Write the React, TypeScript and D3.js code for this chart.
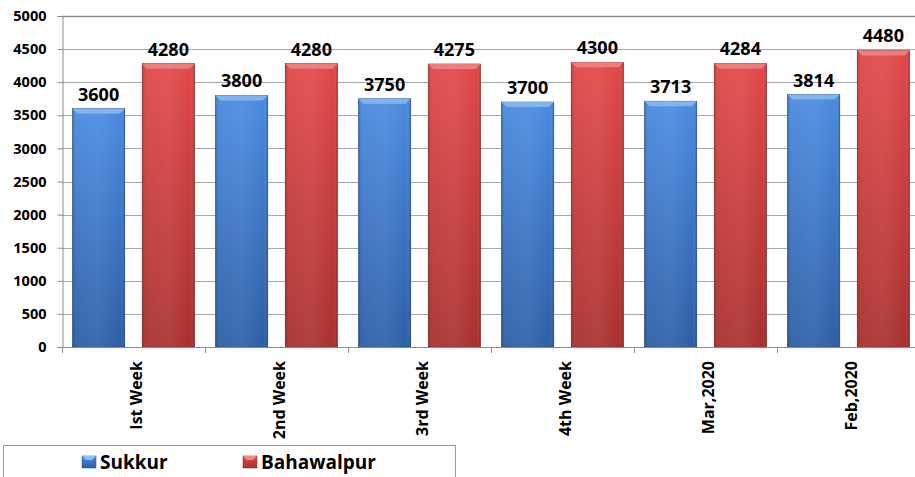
import * as d3 from "d3";
import { useEffect, useRef } from "react";

const categories = ["Ist Week", "2nd Week", "3rd Week", "4th Week", "Mar,2020", "Feb,2020"];
const seriesNames = ["Sukkur", "Bahawalpur"];
const sukkur = [3600, 3800, 3750, 3700, 3713, 3814];
const bahawalpur = [4280, 4280, 4275, 4300, 4284, 4480];
const yTicks = [0, 500, 1000, 1500, 2000, 2500, 3000, 3500, 4000, 4500, 5000];

const FONT = "'Open Sans', 'Liberation Sans', sans-serif";

export default function App() {
  const ref = useRef<SVGSVGElement | null>(null);

  useEffect(() => {
    const svg = d3.select(ref.current);
    svg.selectAll("*").remove();

    const width = 915;
    const height = 477;
    const left = 62;
    const top = 16;
    const bottom = 347;

    svg.attr("width", width).attr("height", height);

    const palette: Record<string, { top: string; bot: string; hi: string; edge: string }> = {
      Sukkur: { top: "#4a8be0", bot: "#2d5ea6", hi: "#8fbdf2", edge: "#24508f" },
      Bahawalpur: { top: "#e24848", bot: "#a8302f", hi: "#f08a8a", edge: "#8e2626" },
    };

    const defs = svg.append("defs");
    seriesNames.forEach((s, i) => {
      const c = palette[s];
      const g = defs
        .append("linearGradient")
        .attr("id", `v${i}`)
        .attr("x1", 0)
        .attr("y1", 0)
        .attr("x2", 0)
        .attr("y2", 1);
      g.append("stop").attr("offset", "0%").attr("stop-color", c.top);
      g.append("stop").attr("offset", "100%").attr("stop-color", c.bot);
    });
    const hg = defs
      .append("linearGradient")
      .attr("id", "hshade")
      .attr("x1", 0)
      .attr("y1", 0)
      .attr("x2", 1)
      .attr("y2", 0);
    hg.append("stop").attr("offset", "0%").attr("stop-color", "#000").attr("stop-opacity", 0.18);
    hg.append("stop").attr("offset", "8%").attr("stop-color", "#fff").attr("stop-opacity", 0.05);
    hg.append("stop").attr("offset", "50%").attr("stop-color", "#fff").attr("stop-opacity", 0.08);
    hg.append("stop").attr("offset", "92%").attr("stop-color", "#fff").attr("stop-opacity", 0.0);
    hg.append("stop").attr("offset", "100%").attr("stop-color", "#000").attr("stop-opacity", 0.22);

    const y = d3.scaleLinear().domain([0, 5000]).range([bottom, top]);
    const x = d3.scaleBand<string>().domain(categories).range([left, left + 143 * 6]);
    const xs = d3
      .scaleBand<string>()
      .domain(seriesNames)
      .range([0, x.bandwidth()])
      .paddingInner(0.25)
      .paddingOuter(0.15);

    // gridlines
    svg
      .append("g")
      .selectAll("line")
      .data(yTicks.filter((t) => t > 0))
      .enter()
      .append("line")
      .attr("x1", left)
      .attr("x2", width)
      .attr("y1", (d) => Math.round(y(d)) + 0.5)
      .attr("y2", (d) => Math.round(y(d)) + 0.5)
      .attr("stroke", (d) => (d === 5000 ? "#8c8c8c" : "#a8a8a8"))
      .attr("stroke-width", (d) => (d === 5000 ? 1.5 : 1));

    // y axis
    const yAxis = svg
      .append("g")
      .attr("transform", `translate(${left + 0.5},0)`)
      .call(
        d3
          .axisLeft(y)
          .tickValues(yTicks)
          .tickFormat(d3.format("d"))
          .tickSize(5)
          .tickPadding(11)
      );
    yAxis.select(".domain").attr("stroke", "#8c8c8c");
    yAxis.selectAll(".tick line").attr("stroke", "#8c8c8c");
    yAxis
      .selectAll("text")
      .attr("font-family", FONT)
      .attr("font-weight", "bold")
      .attr("font-size", "14.5px")
      .attr("fill", "#000");

    const data = categories.map((c, i) => ({
      cat: c,
      vals: [
        { s: seriesNames[0], v: sukkur[i], idx: 0 },
        { s: seriesNames[1], v: bahawalpur[i], idx: 1 },
      ],
    }));

    const groups = svg
      .append("g")
      .selectAll("g")
      .data(data)
      .enter()
      .append("g")
      .attr("transform", (d) => `translate(${x(d.cat)},0)`);

    const bars = groups
      .selectAll("g.bar")
      .data((d) => d.vals)
      .enter()
      .append("g")
      .attr("class", "bar");

    const bw = xs.bandwidth();
    bars
      .append("rect")
      .attr("x", (d) => xs(d.s)!)
      .attr("y", (d) => y(d.v))
      .attr("width", bw)
      .attr("height", (d) => bottom - y(d.v))
      .attr("fill", (d) => `url(#v${d.idx})`)
      .attr("stroke", (d) => palette[d.s].edge)
      .attr("stroke-width", 0.6);
    bars
      .append("rect")
      .attr("x", (d) => xs(d.s)!)
      .attr("y", (d) => y(d.v))
      .attr("width", bw)
      .attr("height", (d) => bottom - y(d.v))
      .attr("fill", "url(#hshade)");
    // top bevel
    bars
      .append("path")
      .attr("d", (d) => {
        const x0 = xs(d.s)!;
        const y0 = y(d.v);
        const b = 5;
        return `M${x0},${y0}L${x0 + bw},${y0}L${x0 + bw - b},${y0 + b}L${x0 + b},${y0 + b}Z`;
      })
      .attr("fill", (d) => palette[d.s].hi)
      .attr("opacity", 0.8);

    // value labels
    bars
      .append("text")
      .attr("x", (d) => xs(d.s)! + bw / 2)
      .attr("y", (d) => y(d.v) - 8)
      .attr("text-anchor", "middle")
      .attr("font-family", FONT)
      .attr("font-weight", "bold")
      .attr("font-size", "18px")
      .attr("fill", "#000")
      .text((d) => d.v);

    // x axis
    svg
      .append("line")
      .attr("x1", left)
      .attr("x2", width)
      .attr("y1", bottom + 0.5)
      .attr("y2", bottom + 0.5)
      .attr("stroke", "#8c8c8c");
    svg
      .append("g")
      .selectAll("line")
      .data(categories)
      .enter()
      .append("line")
      .attr("x1", (d) => x(d)! + 0.5)
      .attr("x2", (d) => x(d)! + 0.5)
      .attr("y1", bottom)
      .attr("y2", bottom + 6)
      .attr("stroke", "#8c8c8c");
    svg
      .append("g")
      .selectAll("text")
      .data(categories)
      .enter()
      .append("text")
      .attr("transform", (d) => `translate(${x(d)! + x.bandwidth() / 2 + 8},${bottom + 14}) rotate(-90)`)
      .attr("text-anchor", "end")
      .attr("font-family", FONT)
      .attr("font-weight", "bold")
      .attr("font-size", "16px")
      .attr("fill", "#000")
      .text((d) => d);

    // legend
    const lg = svg.append("g");
    lg.append("rect")
      .attr("x", 3.5)
      .attr("y", 445.5)
      .attr("width", 452)
      .attr("height", 40)
      .attr("fill", "#fff")
      .attr("stroke", "#9a9a9a");
    const legendX = [82, 243];
    seriesNames.forEach((s, i) => {
      lg.append("rect")
        .attr("x", legendX[i])
        .attr("y", 456)
        .attr("width", 14)
        .attr("height", 12)
        .attr("fill", `url(#v${i})`)
        .attr("stroke", palette[s].edge)
        .attr("stroke-width", 0.5);
      lg.append("path")
        .attr("d", `M${legendX[i]},456L${legendX[i] + 14},456L${legendX[i] + 10},460L${legendX[i] + 4},460Z`)
        .attr("fill", palette[s].hi);
      lg.append("text")
        .attr("x", legendX[i] + 18)
        .attr("y", 469)
        .attr("font-family", FONT)
        .attr("font-weight", "bold")
        .attr("font-size", "19px")
        .attr("fill", "#000")
        .text(s);
    });
  }, []);

  return (
    <div style={{ position: "absolute", left: 0, top: 0, background: "#fff" }}>
      <svg ref={ref}></svg>
    </div>
  );
}
